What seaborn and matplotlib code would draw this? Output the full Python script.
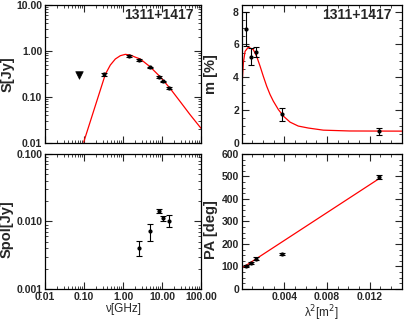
import numpy as np
import matplotlib
matplotlib.use("Agg")
import matplotlib.pyplot as plt
import seaborn as sns
from matplotlib.ticker import LogLocator, FormatStrFormatter, MultipleLocator, NullFormatter, FixedLocator

# --- data ---
source = "1311+1417"

# total flux density spectrum
nu_obs = [0.33, 1.4, 2.64, 4.85, 8.35, 10.45, 15.0]
s_obs = [0.31, 0.77, 0.64, 0.44, 0.265, 0.215, 0.155]
s_err = [0.025, 0.03, 0.025, 0.015, 0.012, 0.01, 0.008]
nu_lim = [0.074]
s_lim = [0.30]
nu_fit = [0.098, 0.352, 0.472, 0.635, 0.853, 1.146, 1.54, 2.06, 2.77, 4.92, 8.9, 16, 29, 52, 100]
s_fit = [0.0102, 0.308, 0.49, 0.665, 0.785, 0.84, 0.81, 0.73, 0.665, 0.452, 0.274, 0.153,
         0.079, 0.041, 0.0205]

# polarisation degree vs lambda^2
lam2_m = [0.0004, 0.00082, 0.00129, 0.00382, 0.0129]
m_obs = [6.93, 5.25, 5.53, 1.72, 0.68]
m_err = [1.05, 0.5, 0.3, 0.42, 0.2]
lam2_fit = [0.0, 0.00015, 0.00031, 0.00062, 0.00109, 0.0014, 0.00172, 0.00202, 0.00234,
            0.00265, 0.00296, 0.00343, 0.0039, 0.00453, 0.0053, 0.00624, 0.00765, 0.0101, 0.015]
m_fit = [3.24, 4.86, 5.57, 5.83, 5.67, 5.26, 4.66, 4.05, 3.44, 2.94, 2.53, 2.02, 1.62, 1.25,
         1.01, 0.89, 0.76, 0.71, 0.70]

# polarised flux density
nu_pol = [2.64, 4.85, 8.35, 10.45, 15.0]
spol = [0.0041, 0.0072, 0.0142, 0.0112, 0.0103]
spol_err = [0.001, 0.0021, 0.001, 0.0009, 0.0021]

# polarisation angle vs lambda^2
lam2_pa = [0.0004, 0.00082, 0.00129, 0.00382, 0.0129]
pa_obs = [101, 115, 135, 155, 497]
pa_err = [5, 5, 5, 6, 8]
lam2_line = [0.00015, 0.0129]
pa_line = [97, 491]

sns.set_theme(style="ticks")
plt.rcParams["font.family"] = ["Liberation Sans", "DejaVu Sans"]
plt.rcParams.update({
    "xtick.direction": "in", "ytick.direction": "in",
    "xtick.top": True, "ytick.right": True,
    "xtick.major.size": 5, "ytick.major.size": 5,
    "xtick.minor.size": 2.5, "ytick.minor.size": 2.5,
    "xtick.major.width": 0.8, "ytick.major.width": 0.8,
    "xtick.minor.width": 0.6, "ytick.minor.width": 0.6,
    "axes.linewidth": 0.9,
    "xtick.major.pad": 2, "ytick.major.pad": 2,
})

fig = plt.figure(figsize=(4.07, 3.23), dpi=100)
ax1 = fig.add_axes([0.1106, 0.5585, 0.3833, 0.426])
ax2 = fig.add_axes([0.594, 0.5585, 0.393, 0.426])
ax3 = fig.add_axes([0.1106, 0.1053, 0.3833, 0.418])
ax4 = fig.add_axes([0.594, 0.1053, 0.393, 0.418])

tick_size = 7.5
lab_font = dict(fontsize=10.5, fontweight="bold")
eb = dict(fmt="o", color="black", ms=2, capsize=2.5, elinewidth=0.8, capthick=0.8, zorder=3)

# --- S vs nu ---
sns.lineplot(x=nu_fit, y=s_fit, ax=ax1, color="red", lw=0.9, sort=False)
ax1.errorbar(nu_obs, s_obs, yerr=s_err, **eb)
sns.scatterplot(x=nu_lim, y=s_lim, ax=ax1, marker="v", s=30, color="black", edgecolor="black")
ax1.set_xscale("log")
ax1.set_yscale("log")
ax1.set_xlim(0.01, 100)
ax1.set_ylim(0.01, 10)
ax1.xaxis.set_major_formatter(NullFormatter())
ax1.yaxis.set_major_formatter(FormatStrFormatter("%.2f"))
ax1.set_ylabel("S[Jy]", **lab_font)

# --- m vs lambda^2 ---
sns.lineplot(x=lam2_fit, y=m_fit, ax=ax2, color="red", lw=0.9, sort=False)
ax2.errorbar(lam2_m, m_obs, yerr=m_err, **eb)
ax2.set_xlim(0, 0.015)
ax2.set_ylim(0, 8.4)
ax2.xaxis.set_major_locator(FixedLocator([0.004, 0.008, 0.012]))
ax2.xaxis.set_minor_locator(MultipleLocator(0.001))
ax2.xaxis.set_major_formatter(NullFormatter())
ax2.yaxis.set_major_locator(MultipleLocator(2))
ax2.yaxis.set_minor_locator(MultipleLocator(0.5))
ax2.set_ylabel("m [%]", **lab_font)

# --- Spol vs nu ---
ax3.errorbar(nu_pol, spol, yerr=spol_err, **eb)
ax3.set_xscale("log")
ax3.set_yscale("log")
ax3.set_xlim(0.01, 100)
ax3.set_ylim(0.001, 0.1)
ax3.xaxis.set_major_formatter(FormatStrFormatter("%.2f"))
ax3.yaxis.set_major_formatter(FormatStrFormatter("%.3f"))
ax3.set_ylabel("Spol[Jy]", **lab_font)
ax3.set_xlabel("ν[GHz]", fontsize=8.5, labelpad=1)

# --- PA vs lambda^2 ---
sns.lineplot(x=lam2_line, y=pa_line, ax=ax4, color="red", lw=0.9, sort=False)
ax4.errorbar(lam2_pa, pa_obs, yerr=pa_err, **eb)
ax4.set_xlim(0, 0.015)
ax4.set_ylim(0, 600)
ax4.xaxis.set_major_locator(FixedLocator([0.004, 0.008, 0.012]))
ax4.xaxis.set_minor_locator(MultipleLocator(0.001))
ax4.xaxis.set_major_formatter(FormatStrFormatter("%.3f"))
ax4.yaxis.set_major_locator(MultipleLocator(100))
ax4.yaxis.set_minor_locator(MultipleLocator(25))
ax4.set_ylabel("PA [deg]", **lab_font)
ax4.set_xlabel("λ$^2$[m$^2$]", fontsize=8.5, labelpad=1)

for ax in (ax1, ax3):
    ax.xaxis.set_major_locator(LogLocator(base=10, numticks=10))
    ax.xaxis.set_minor_locator(LogLocator(base=10, subs=np.arange(2, 10), numticks=20))
    ax.yaxis.set_major_locator(LogLocator(base=10, numticks=10))
    ax.yaxis.set_minor_locator(LogLocator(base=10, subs=np.arange(2, 10), numticks=20))
    ax.xaxis.set_minor_formatter(NullFormatter())
    ax.yaxis.set_minor_formatter(NullFormatter())

for ax in (ax1, ax2, ax3, ax4):
    ax.tick_params(which="both", top=True, right=True, direction="in")
    for lbl in ax.get_xticklabels() + ax.get_yticklabels():
        lbl.set_fontsize(tick_size)
        lbl.set_fontweight("bold")
    ax.grid(False)
    for sp in ax.spines.values():
        sp.set_color("black")

for ax, x in ((ax1, 0.95), (ax2, 0.94)):
    ax.text(x, 0.93, source, transform=ax.transAxes, ha="right", va="center",
            fontsize=10, fontweight="bold")

ax1.yaxis.set_label_coords(-0.195, 0.5)
ax3.yaxis.set_label_coords(-0.2, 0.44)
ax2.yaxis.set_label_coords(-0.148, 0.5)
ax4.yaxis.set_label_coords(-0.148, 0.44)

fig.savefig("out.png", dpi=100)
